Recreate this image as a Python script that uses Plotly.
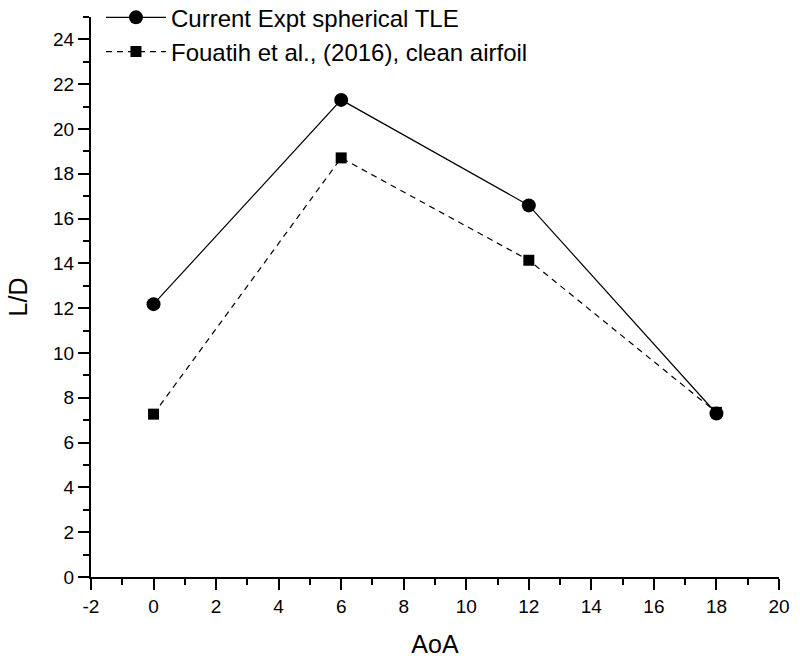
import plotly.graph_objects as go

aoa = [0, 6, 12, 18]
ld_current = [12.18, 21.3, 16.59, 7.30]
ld_fouatih = [7.27, 18.71, 14.14, 7.35]

name_current = "Current Expt spherical TLE"
name_fouatih = "Fouatih et al., (2016), clean airfoil"

x_ticks = list(range(-2, 21, 2))
y_ticks = list(range(0, 25, 2))

font_family = "Arial, Liberation Sans, sans-serif"

fig = go.Figure()
fig.add_trace(go.Scatter(
    x=aoa, y=ld_fouatih, name=name_fouatih, mode="lines+markers", legendrank=2,
    line=dict(color="black", width=1.2, dash="6px,5px"),
    marker=dict(symbol="square", size=11, color="black"),
))
fig.add_trace(go.Scatter(
    x=aoa, y=ld_current, name=name_current, mode="lines+markers", legendrank=1,
    line=dict(color="black", width=1.2),
    marker=dict(symbol="circle", size=14, color="black"),
))

axis_common = dict(
    showline=True, linecolor="black", linewidth=2,
    ticks="outside", ticklen=11, tickwidth=2, tickcolor="black",
    showgrid=False, zeroline=False, mirror=False, automargin=False,
    tickfont=dict(size=19, color="black", family=font_family),
)

fig.update_xaxes(
    range=[-2, 20], tickvals=x_ticks, ticktext=[str(v) for v in x_ticks],
    title=dict(text="AoA", font=dict(size=25, color="black", family=font_family), standoff=22),
    minor=dict(ticks="outside", ticklen=6, tickwidth=2, tickcolor="black", dtick=1, tick0=-2),
    **axis_common,
)
fig.update_yaxes(
    range=[0, 25], tickvals=y_ticks, ticktext=[str(v) for v in y_ticks],
    title=dict(text="L/D", font=dict(size=25, color="black", family=font_family), standoff=18),
    minor=dict(ticks="outside", ticklen=6, tickwidth=2, tickcolor="black", dtick=1, tick0=0),
    **axis_common,
)

fig.update_layout(
    width=800, height=658,
    margin=dict(l=91, r=21, t=17, b=81, pad=0, autoexpand=False),
    plot_bgcolor="white", paper_bgcolor="white",
    font=dict(family=font_family, color="black"),
    showlegend=True,
    legend=dict(
        x=0.0145, y=1.0388, xanchor="left", yanchor="top",
        bgcolor="rgba(0,0,0,0)", font=dict(size=24, color="black", family=font_family),
        itemwidth=60, tracegroupgap=0,
    ),
)

fig.write_html("out.html", config={"displayModeBar": False},
               post_script="document.body.style.margin='0';")
